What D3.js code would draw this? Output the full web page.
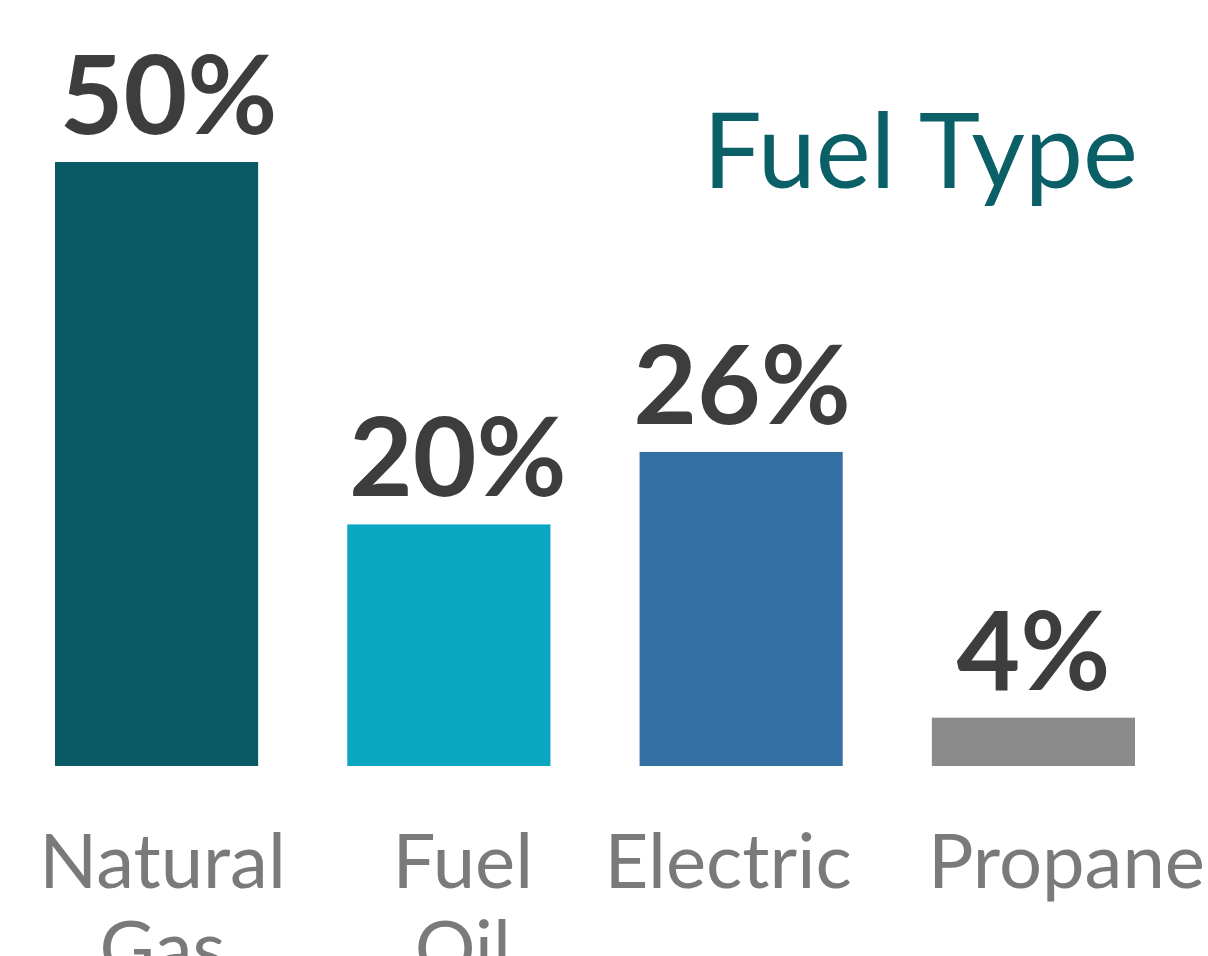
<!DOCTYPE html>
<html>
<head>
<meta charset="utf-8">
<script src="https://cdn.jsdelivr.net/npm/d3@7"></script>
<style>
  html, body { margin: 0; padding: 0; background: #fff; }
  svg { display: block; }
</style>
</head>
<body>
<script>
// Chart values
var categories = [["Natural", "Gas"], ["Fuel", "Oil"], ["Electric"], ["Propane"]];
var values = [50, 20, 26, 4];
var colors = ["#0a5a66", "#0ba6c1", "#3570a3", "#8a8a8a"];
var title = "Fuel Type";

// label nudges off the bar centre (the original isn't quite centred)
var valueShift = [12, 9, 1, 0];
var catShift = [6, 14, -13, 33];

var width = 1208,
    height = 956;

var svg = d3.select("body").append("svg")
    .attr("width", width)
    .attr("height", height);

var x = d3.scaleBand()
    .domain(d3.range(values.length))
    .range([55, 1135])
    .paddingInner(0.305)
    .paddingOuter(0);

var y = d3.scaleLinear()
    .domain([0, 50])
    .range([766, 162]);

function mid(i) { return x(i) + x.bandwidth() / 2; }

// Bars
svg.append("g").selectAll("rect")
    .data(values)
  .enter().append("rect")
    .attr("x", function(d, i) { return x(i); })
    .attr("y", function(d) { return y(d); })
    .attr("width", x.bandwidth())
    .attr("height", function(d) { return y(0) - y(d); })
    .style("fill", function(d, i) { return colors[i]; });

// Value labels
svg.append("g").selectAll("text")
    .data(values)
  .enter().append("text")
    .attr("x", function(d, i) { return mid(i) + valueShift[i]; })
    .attr("y", function(d) { return y(d) - 28; })
    .attr("text-anchor", "middle")
    .style("font-family", "Lato, sans-serif")
    .style("font-weight", "bold")
    .style("font-size", "110px")
    .style("fill", "#3d3d3d")
    .text(function(d) { return d + "%"; });

// Category labels
var cat = svg.append("g").selectAll("text")
    .data(categories)
  .enter().append("text")
    .attr("x", function(d, i) { return mid(i) + catShift[i]; })
    .attr("y", 888)
    .attr("text-anchor", "middle")
    .style("font-family", "Lato, sans-serif")
    .style("font-size", "76px")
    .style("fill", "#7a7a7a");

cat.selectAll("tspan")
    .data(function(d) { return d; })
  .enter().append("tspan")
    .attr("x", function() { return d3.select(this.parentNode).attr("x"); })
    .attr("dy", function(d, j) { return j ? 87 : 0; })
    .text(function(d) { return d; });

// Title
svg.append("text")
    .attr("x", 1138)
    .attr("y", 188)
    .attr("text-anchor", "end")
    .style("font-family", "Lato, sans-serif")
    .style("font-size", "104px")
    .style("fill", "#0b6068")
    .text(title);
</script>
</body>
</html>
